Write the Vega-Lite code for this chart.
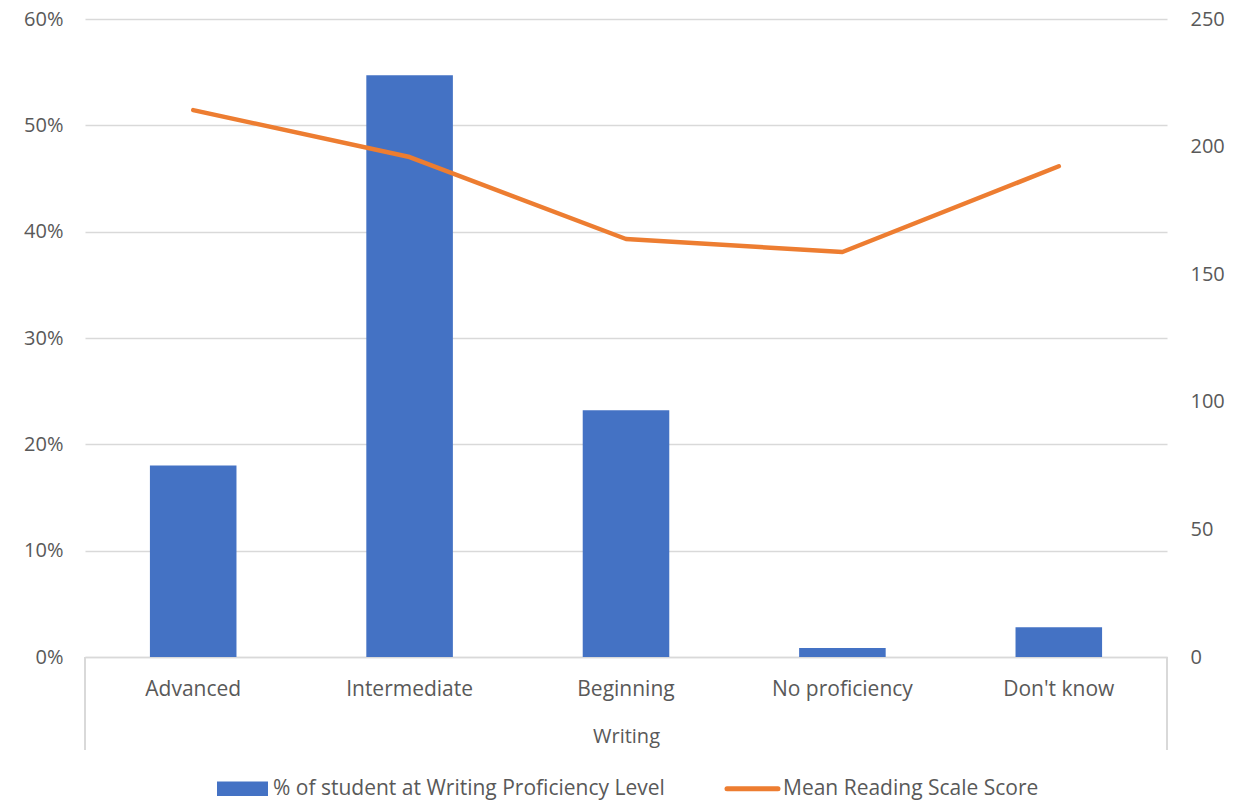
{
  "$schema": "https://vega.github.io/schema/vega-lite/v6.json",
  "autosize": {"type": "none"},
  "width": 1082,
  "height": 638,
  "padding": {"left": 85, "top": 19, "right": 70, "bottom": 144},
  "background": "white",
  "config": {
    "view": {"stroke": null},
    "font": "Open Sans",
    "axis": {"labelFont": "Open Sans", "titleFont": "Open Sans", "labelColor": "#595959", "titleColor": "#595959", "labelFontSize": 20, "titleFontSize": 20, "titleFontWeight": "normal"},
    "legend": {"labelFont": "Open Sans", "labelColor": "#595959", "labelFontSize": 21, "labelLimit": 0}
  },
  "data": {
    "values": [
      {"level": "Advanced", "pct": 0.18, "score": 214.3},
      {"level": "Intermediate", "pct": 0.547, "score": 195.9},
      {"level": "Beginning", "pct": 0.232, "score": 163.8},
      {"level": "No proficiency", "pct": 0.0085, "score": 158.7},
      {"level": "Don't know", "pct": 0.028, "score": 192.3}
    ]
  },
  "encoding": {
    "x": {
      "field": "level",
      "type": "nominal",
      "sort": null,
      "scale": {"paddingInner": 0.6, "paddingOuter": 0.3},
      "axis": {
        "title": "Writing",
        "labelAngle": 0,
        "labelFontSize": 21,
        "labelPadding": 21,
        "titlePadding": 27,
        "domainColor": "#d9d9d9",
        "domainWidth": 1.5,
        "ticks": false,
        "grid": false
      }
    }
  },
  "layer": [
    {
      "layer": [
        {
          "mark": {"type": "bar"},
          "encoding": {
            "y": {
              "field": "pct",
              "type": "quantitative",
              "scale": {"domain": [0, 0.6], "nice": false},
              "axis": {"title": null, "format": ".0%", "values": [0, 0.1, 0.2, 0.3, 0.4, 0.5, 0.6], "domain": false, "ticks": false, "labelPadding": 22, "gridColor": "#d9d9d9", "gridWidth": 1.5}
            },
            "color": {
              "datum": "% of student at Writing Proficiency Level",
              "type": "nominal",
              "scale": {"domain": ["% of student at Writing Proficiency Level", "Mean Reading Scale Score"], "range": ["#4472C4", "#ED7D31"]},
              "legend": {
                "title": null,
                "orient": "none",
                "direction": "horizontal",
                "legendX": 147,
                "legendY": 759,
                "symbolType": "M-1,-0.28H1V0.28H-1Z",
                "symbolSize": 2601,
                "symbolStrokeWidth": 0,
                "labelOffset": 20,
                "columnPadding": 52,
                "encode": {
                  "symbols": {
                    "update": {
                      "shape": {"signal": "datum.label == 'Mean Reading Scale Score' ? 'M-1,0H1' : 'M-1,-0.28H1V0.28H-1Z'"},
                      "fill": {"signal": "datum.label == 'Mean Reading Scale Score' ? 'transparent' : '#4472C4'"},
                      "stroke": {"signal": "datum.label == 'Mean Reading Scale Score' ? '#ED7D31' : 'transparent'"},
                      "strokeWidth": {"signal": "datum.label == 'Mean Reading Scale Score' ? 5 : 0"},
                      "strokeCap": {"value": "round"}
                    }
                  }
                }
              }
            }
          }
        },
        {
          "mark": {"type": "rule", "color": "#d9d9d9", "strokeWidth": 1.5},
          "encoding": {
            "x": {"datum": "Advanced", "bandPosition": -0.75},
            "y": {"datum": 0, "type": "quantitative"},
            "y2": {"datum": -0.0875}
          }
        },
        {
          "mark": {"type": "rule", "color": "#d9d9d9", "strokeWidth": 1.5},
          "encoding": {
            "x": {"datum": "Don't know", "bandPosition": 1.75},
            "y": {"datum": 0, "type": "quantitative"},
            "y2": {"datum": -0.0875}
          }
        }
      ]
    },
    {
      "mark": {"type": "line", "strokeWidth": 4.5, "strokeCap": "round", "strokeJoin": "round"},
      "encoding": {
        "y": {
          "field": "score",
          "type": "quantitative",
          "scale": {"domain": [0, 250], "nice": false},
          "axis": {"title": null, "orient": "right", "values": [0, 50, 100, 150, 200, 250], "domain": false, "ticks": false, "grid": false, "labelPadding": 23}
        },
        "color": {"datum": "Mean Reading Scale Score", "type": "nominal"}
      }
    }
  ],
  "resolve": {"scale": {"y": "independent"}}
}
